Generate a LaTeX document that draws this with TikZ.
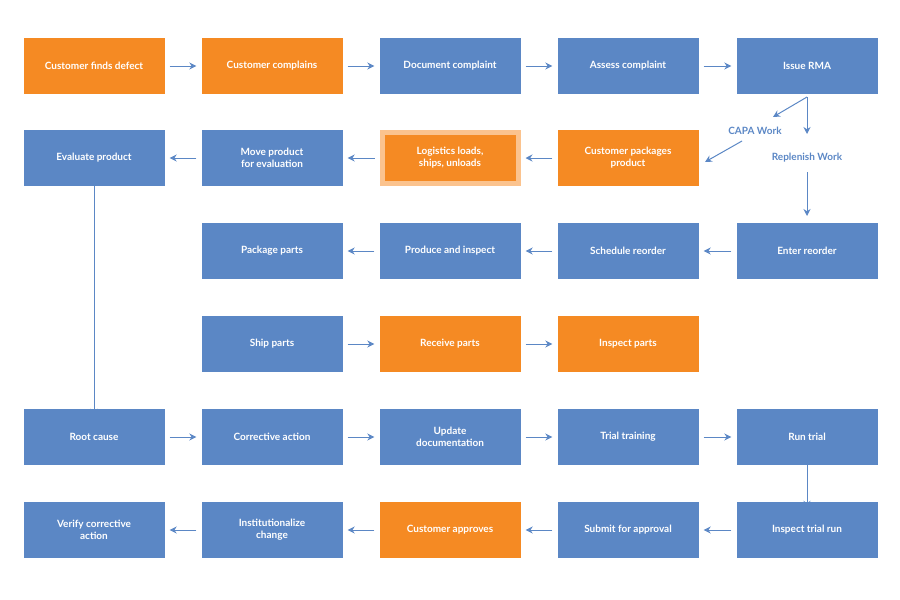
\documentclass[tikz,border=0pt]{standalone}
\usepackage{fontspec}
\setmainfont{Lato}
\usetikzlibrary{arrows.meta}
\definecolor{bl}{HTML}{5B87C5}
\definecolor{og}{HTML}{F58A23}
\definecolor{lo}{HTML}{FBC38E}
\begin{document}
\begin{tikzpicture}[x=1pt,y=-1pt,
 box/.style={minimum width=141pt,minimum height=56pt,inner sep=0pt,text=white,font=\bfseries\fontsize{10}{12}\selectfont,align=center},
 bbox/.style={box,fill=bl},
 obox/.style={box,fill=og},
 arr/.style={draw=bl,line width=1pt,-{Stealth[length=7pt,width=7pt]}},
 lbl/.style={text=bl,font=\bfseries\fontsize{10}{12}\selectfont}]
\useasboundingbox (0,0) rectangle (900,600);
\def\ca{94}\def\cb{272}\def\cc{450}\def\cd{628}\def\ce{807}
\node[obox] (a1) at (\ca,66) {Customer finds defect};
\node[obox] (a2) at (\cb,66) {Customer complains};
\node[bbox] (a3) at (\cc,66) {Document complaint};
\node[bbox] (a4) at (\cd,66) {Assess complaint};
\node[bbox] (a5) at (\ce,66) {Issue RMA};
\node[bbox] (b1) at (\ca,158) {Evaluate product};
\node[bbox] (b2) at (\cb,158) {Move product\\for evaluation};
\node[box,fill=og,draw=lo,line width=5pt,minimum width=136pt,minimum height=51pt] (b3) at (\cc,158) {Logistics loads,\\ships, unloads};
\node[obox] (b4) at (\cd,158) {Customer packages\\product};
\node[bbox] (c1) at (\cb,251) {Package parts};
\node[bbox] (c2) at (\cc,251) {Produce and inspect};
\node[bbox] (c3) at (\cd,251) {Schedule reorder};
\node[bbox] (c4) at (\ce,251) {Enter reorder};
\node[bbox] (d1) at (\cb,344) {Ship parts};
\node[obox] (d2) at (\cc,344) {Receive parts};
\node[obox] (d3) at (\cd,344) {Inspect parts};
\node[bbox] (e1) at (\ca,437) {Root cause};
\node[bbox] (e2) at (\cb,437) {Corrective action};
\node[bbox] (e3) at (\cc,437) {Update\\documentation};
\node[bbox] (e4) at (\cd,437) {Trial training};
\node[bbox] (e5) at (\ce,437) {Run trial};
\node[bbox] (f1) at (\ca,530) {Verify corrective\\action};
\node[bbox] (f2) at (\cb,530) {Institutionalize\\change};
\node[obox] (f3) at (\cc,530) {Customer approves};
\node[bbox] (f4) at (\cd,530) {Submit for approval};
\node[bbox] (f5) at (\ce,530) {Inspect trial run};
\node[lbl] (capa) at (755,131) {CAPA Work};
\node[lbl] (rep) at (807,158) {Replenish Work};
\coordinate (r0) at (807,97);
\foreach \s/\t in {a1/a2,a2/a3,a3/a4,a4/a5,d1/d2,d2/d3,e1/e2,e2/e3,e3/e4,e4/e5}
  \draw[arr] ([xshift=5pt]\s.east) -- ([xshift=-5pt]\t.west);
\foreach \s/\t in {b4/b3,b3/b2,b2/b1,c4/c3,c3/c2,c2/c1,f5/f4,f4/f3,f3/f2,f2/f1}
  \draw[arr] ([xshift=-5pt]\s.west) -- ([xshift=5pt]\t.east);
\draw[arr] (r0) -- (773,117);
\draw[arr] (742,141) -- (705,162);
\draw[arr] (r0) -- (807,134);
\draw[arr] (807,172) -- (807,216);
\draw[arr] ([yshift=6pt]b1.south) -- ([yshift=-7pt]e1.north);
\draw[arr] ([yshift=6pt]e5.south) -- ([yshift=-6pt]f5.north);
\end{tikzpicture}
\end{document}
